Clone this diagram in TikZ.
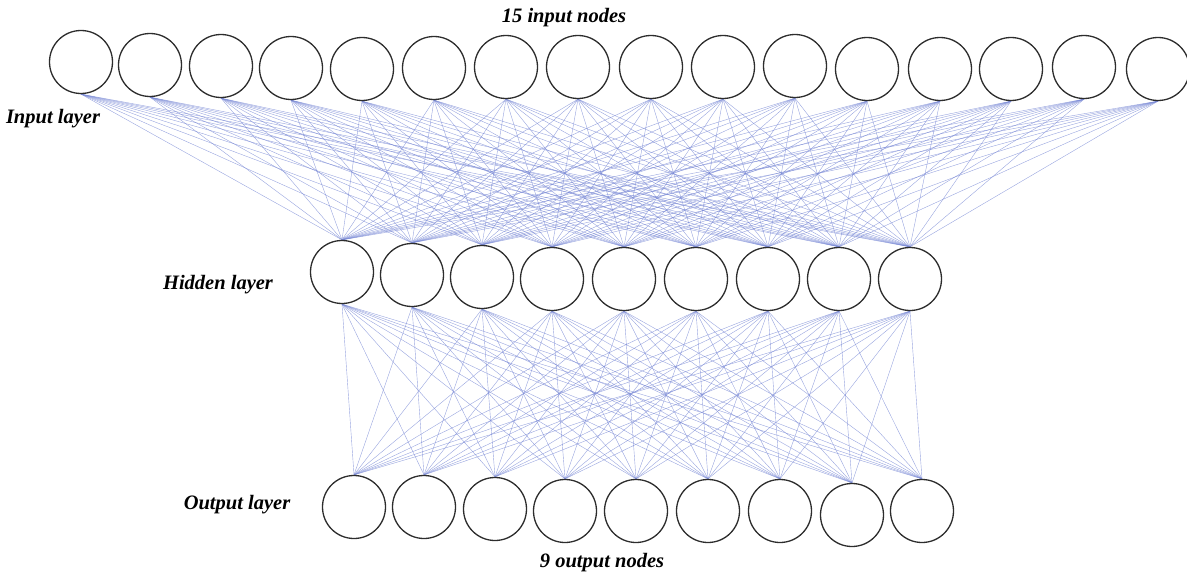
\documentclass[tikz,border=0pt]{standalone}
\usepackage{fontspec}
\setmainfont{Liberation Serif}
\usetikzlibrary{backgrounds}
\definecolor{linkblue}{RGB}{118,134,212}
\definecolor{ringgray}{RGB}{45,45,45}
\tikzset{
  neuron/.style={circle, draw=ringgray, line width=1.3pt, minimum size=63pt, inner sep=0pt, fill=white},
  link/.style={draw=linkblue, line width=0.4pt, opacity=0.75},
  caption/.style={font=\fontsize{20.5}{22}\selectfont\bfseries\itshape, anchor=base, inner sep=0pt},
}
\begin{document}
\begin{tikzpicture}[x=1pt,y=-1pt]
\useasboundingbox (0,0) rectangle (1187,578);

% input layer
\foreach \x/\y [count=\i] in {81/62,150/65,221/66,291/68,362/69,434/68,506/67,578/67,
                              651/67,723/67,795/66,867/69,940/69,1011/69,1084/67,1158/69}
  \node[neuron] (in\i) at (\x,\y) {};

% hidden layer
\foreach \x/\y [count=\i] in {342/272,412/275,482/277,552/279,624/279,696/279,768/279,839/279,910/279}
  \node[neuron] (h\i) at (\x,\y) {};

% output layer
\foreach \x/\y [count=\i] in {354/507,424/507,495/509,565/511,636/511,708/511,780/511,852/515,922/511}
  \node[neuron] (o\i) at (\x,\y) {};

% fully connected weights
\begin{scope}[on background layer]
  \foreach \i in {1,...,16}
    \foreach \j in {1,...,9}
      \draw[link] (in\i.south) -- (h\j.north);
  \foreach \i in {1,...,9}
    \foreach \j in {1,...,9}
      \draw[link] (h\i.south) -- (o\j.north);
\end{scope}

% captions
\node[caption] (tin)  at (564,23)  {15 input nodes};
\node[caption] (lin)  at (53,124)  {Input layer};
\node[caption] (lhid) at (218,289) {Hidden layer};
\node[caption] (lout) at (237,509) {Output layer};
\node[caption] (tout) at (602,567) {9 output nodes};
\end{tikzpicture}
\end{document}
